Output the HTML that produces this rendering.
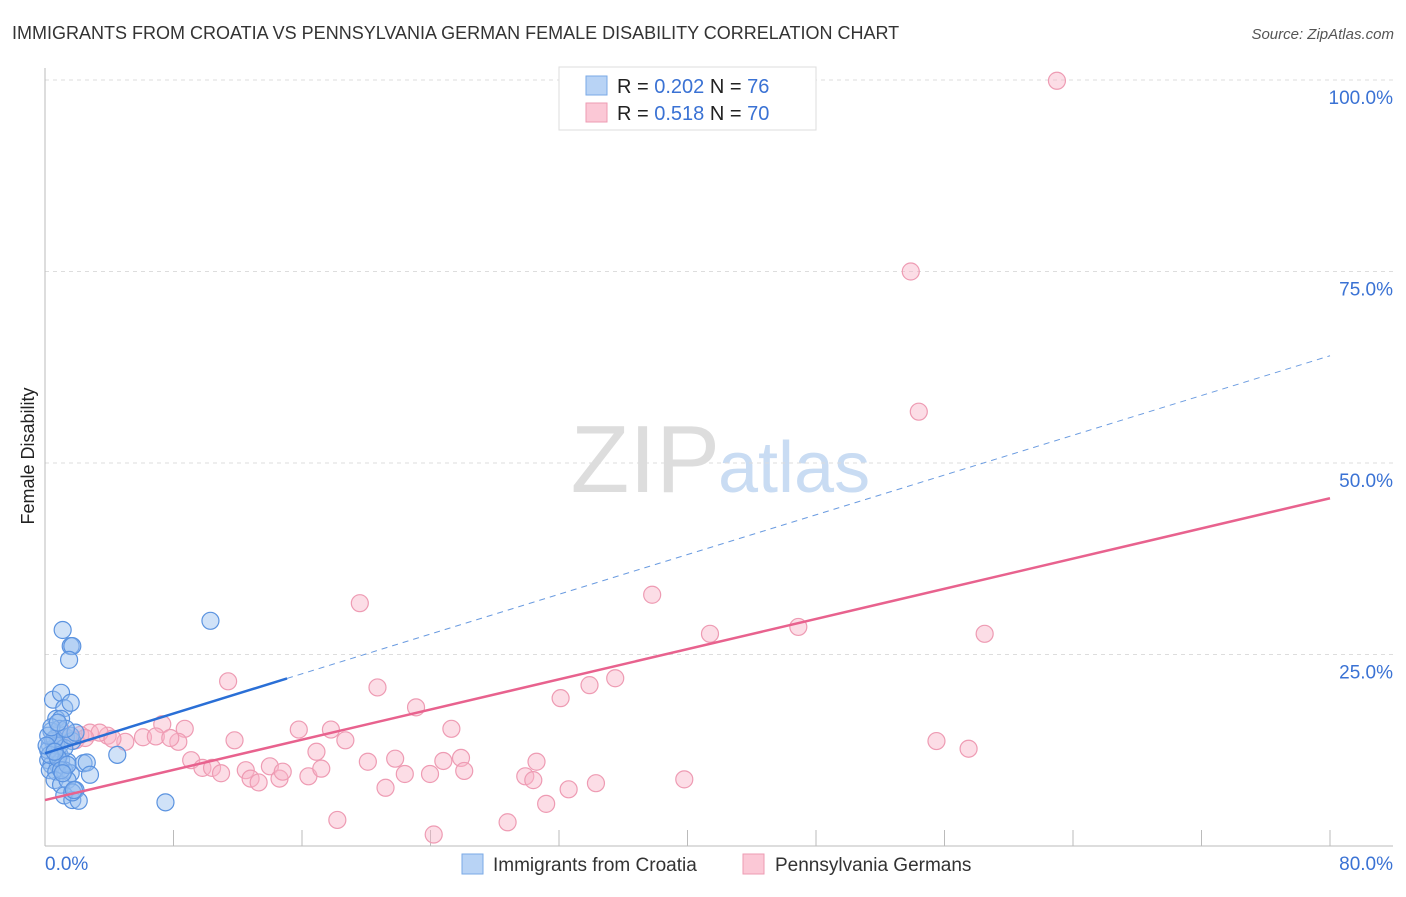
<!DOCTYPE html>
<html><head><meta charset="utf-8"><style>
body{margin:0;background:#fff;font-family:"Liberation Sans",sans-serif}
svg text{font-family:"Liberation Sans",sans-serif}
</style></head><body>
<svg width="1406" height="892" xmlns="http://www.w3.org/2000/svg">
<text x="12" y="39" font-size="18" fill="#333">IMMIGRANTS FROM CROATIA VS PENNSYLVANIA GERMAN FEMALE DISABILITY CORRELATION CHART</text>
<text x="1394" y="39" font-size="15" fill="#555" font-style="italic" text-anchor="end">Source: ZipAtlas.com</text>
<text x="34" y="456" font-size="18" fill="#222" transform="rotate(-90 34 456)" text-anchor="middle">Female Disability</text>
<text x="720" y="492" font-size="96" fill="#ddd" text-anchor="end" font-family="Liberation Serif">ZIP</text>
<text x="718" y="492" font-size="72" fill="#c9dcf3">atlas</text>
<g id="grid"></g><g id="axes"></g><g id="pts"></g><g id="lines"></g>
<g>
<rect x="559" y="67" width="257" height="63" fill="#fff" stroke="#ddd"/>
<rect x="586" y="76" width="21" height="19" fill="#b8d3f5" stroke="#7aa9e6"/>
<rect x="586" y="103" width="21" height="19" fill="#fbc8d6" stroke="#ee9bb3"/>
<text x="617" y="93" font-size="20" fill="#222">R = <tspan fill="#3a72d4">0.202</tspan>   N =  <tspan fill="#3a72d4">76</tspan></text>
<text x="617" y="120" font-size="20" fill="#222">R =  <tspan fill="#3a72d4">0.518</tspan>   N = <tspan fill="#3a72d4">70</tspan></text>
</g>
<g>
<rect x="462" y="854" width="21" height="20" fill="#b8d3f5" stroke="#7aa9e6"/>
<text x="493" y="871" font-size="19" fill="#333">Immigrants from Croatia</text>
<rect x="743" y="854" width="21" height="20" fill="#fbc8d6" stroke="#ee9bb3"/>
<text x="775" y="871" font-size="19" fill="#333">Pennsylvania Germans</text>
</g>
</svg>
<script>
const blueX=[1.1,1.6,1.7,1.5,10.3,0.5,1,1.2,1.6,0.7,1,0.4,0.9,1.3,1.7,0.3,0.6,0.9,0.2,0.4,0.8,1,1.4,0.3,0.7,1.2,1.6,2.4,2.6,4.5,0.6,1,1.4,1.9,2.8,1.2,1.7,2.1,7.5,0.5,0.7,0.2,0.9,1.2,0.6,0.3,0.8,1,1.4,1.7,1.8,1.1,0.2,0.4,0.1,1.6,1.9,1.3,0.8,0.6];
const blueY=[28.2,26.1,26.1,24.3,29.4,19.1,20,18,18.7,16.6,16.6,15,15.3,14.2,13.7,13.2,12.5,11.9,11.2,10.6,10.6,11.2,11,9.9,9.7,9.9,9.5,10.8,10.9,11.9,8.6,8,8.6,7.3,9.3,6.6,6,5.9,5.7,13.7,13.1,12.5,13.1,12.8,14,11.9,11.5,9.9,10.6,7,7.3,9.5,14.4,15.5,13.1,14.4,14.8,15.3,16.1,12.3];
const pinkX=[63,53.9,54.4,19.6,37.8,41.4,46.9,58.5,11.4,20.7,32.1,33.9,35.5,23.1,7.3,8.7,15.8,17.8,25.3,55.5,57.5,11.8,18.7,8.3,6.1,6.9,7.8,5,3.9,2.8,3.4,4.2,2.2,9.1,9.8,10.4,10.96,12.5,12.8,13.3,14,14.6,14.8,16.4,17.2,16.9,20.1,21.8,22.4,21.2,23.97,24.8,25.9,26.1,30.6,29.9,30.4,32.6,34.3,39.8,31.2,28.8,24.2,18.2,1.6,1,0.6,1.2,1.9,2.5];
const pinkY=[99.9,75,56.7,31.7,32.8,27.7,28.6,27.7,21.5,20.7,19.3,21,21.9,18.1,15.9,15.3,15.2,15.2,15.3,13.7,12.7,13.8,13.8,13.6,14.2,14.3,14.1,13.6,14.4,14.8,14.8,14,14.5,11.2,10.2,10.2,9.5,9.9,8.8,8.3,10.4,8.8,9.7,9.1,10.1,12.3,11,11.4,9.4,7.6,9.4,11.1,11.5,9.8,11,9.1,8.6,7.4,8.2,8.7,5.5,3.1,1.5,3.4,14.4,15.1,13.8,14.1,13.8,14.1];
const yTicks=[25,50,75,100];
const yTickLabels=["25.0%","50.0%","75.0%","100.0%"];
const xTicks=[0,8,16,24,32,40,48,56,64,72,80];
const blueFit=[12.1,64.0], blueSolidEnd=15.07;
const pinkFit=[6.0,45.4];
const X=v=>45+v/80*1285, Y=v=>846-v/100*766;
const NS="http://www.w3.org/2000/svg";
function mk(parent,tag,attrs){const e=document.createElementNS(NS,tag);for(const k in attrs)e.setAttribute(k,attrs[k]);document.getElementById(parent).appendChild(e);return e;}
yTicks.forEach((t,i)=>{
 const l=mk('grid','line',{x1:45,x2:1393,y1:Y(t),y2:Y(t),stroke:'#ddd','stroke-dasharray':'4,4'});
 
 
 const tx=mk('grid','text',{x:1393,y:Y(t)+24,'font-size':19,fill:'#3a72d4','text-anchor':'end'});
 tx.textContent=yTickLabels[i];
 
 
});
const ax=mk('axes','line',{x1:45,x2:45,y1:68,y2:846,stroke:'#bbb'});


const bx=mk('axes','line',{x1:45,x2:1393,y1:846,y2:846,stroke:'#bbb'});


xTicks.forEach(t=>{const l=mk('axes','line',{x1:X(t),x2:X(t),y1:830,y2:846,stroke:'#bbb'});
 
 });
[[0,'0.0%','start',45],[80,'80.0%','end',1393]].forEach(a=>{const t=mk('axes','text',{x:a[3],y:870,'font-size':19,fill:'#3a72d4','text-anchor':a[2]});t.textContent=a[1];
 
 });
pinkX.forEach((v,i)=>{const c=mk('pts','circle',{cx:X(v),cy:Y(pinkY[i]),r:8.5,fill:'rgba(248,180,200,0.45)',stroke:'#ee9bb3','stroke-width':1.2});
 
 });
blueX.forEach((v,i)=>{const c=mk('pts','circle',{cx:X(v),cy:Y(blueY[i]),r:8.5,fill:'rgba(150,190,240,0.45)',stroke:'#5b93e0','stroke-width':1.2});
 
 });
const bf=x=>blueFit[0]+(blueFit[1]-blueFit[0])*x/80;
const l1=mk('lines','line',{x1:X(0),y1:Y(bf(0)),x2:X(blueSolidEnd),y2:Y(bf(blueSolidEnd)),stroke:'#2a6fd6','stroke-width':2.5});


const l2=mk('lines','line',{x1:X(blueSolidEnd),y1:Y(bf(blueSolidEnd)),x2:X(80),y2:Y(bf(80)),stroke:'#6a9be0','stroke-width':1,'stroke-dasharray':'6,5'});


const l3=mk('lines','line',{x1:X(0),y1:Y(pinkFit[0]),x2:X(80),y2:Y(pinkFit[1]),stroke:'#e8628e','stroke-width':2.5});


</script>
</body></html>
